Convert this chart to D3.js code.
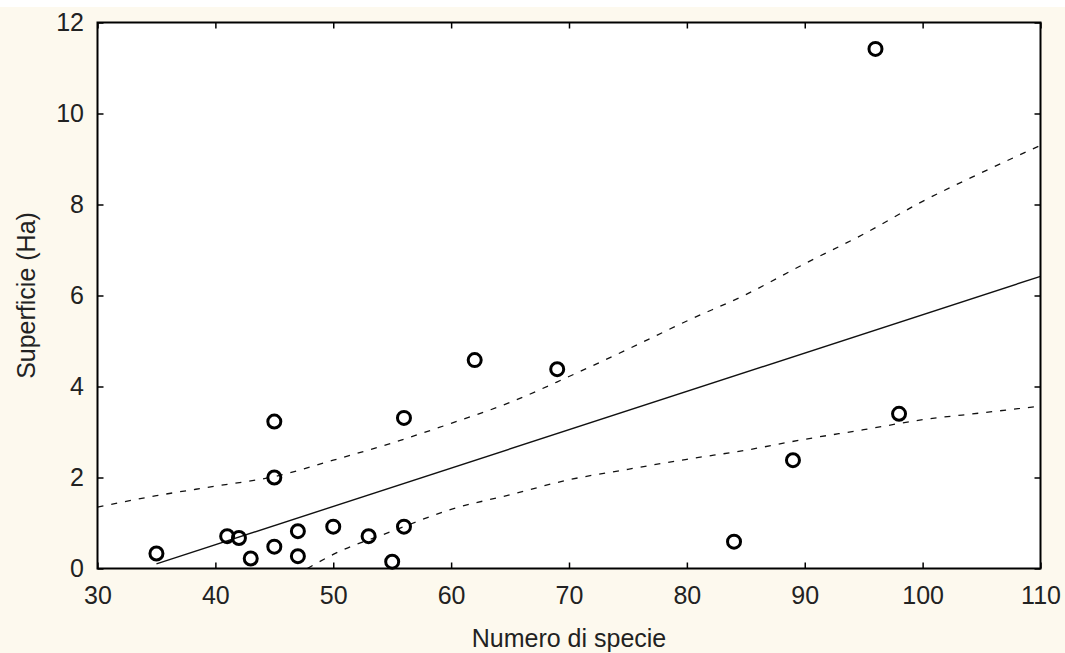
<!DOCTYPE html>
<html>
<head>
<meta charset="utf-8">
<script src="https://cdn.jsdelivr.net/npm/d3@7"></script>
<style>
  body { margin: 0; background: #fdf9ee; }
  svg { display: block; }
</style>
</head>
<body>
<svg class="chart_svg"></svg>
<script>
// observed points
const speciesCount = [35, 41, 42, 43, 45, 45, 45, 47, 47, 50, 53, 55, 56, 56, 62, 69, 84, 89, 96, 98];
const surfaceHa = [0.33, 0.71, 0.67, 0.22, 0.48, 2.0, 3.23, 0.82, 0.27, 0.92, 0.71, 0.15, 0.92, 3.31, 4.58, 4.38, 0.59, 2.38, 11.42, 3.40];

// fitted line
const fitX = [35, 110];
const fitY = [0.1, 6.42];

// confidence bands
const upperX = [30, 35, 40, 45, 50, 55, 60, 65, 70, 75, 80, 85, 90, 95, 100, 105, 110];
const upperY = [1.35, 1.6, 1.81, 2.02, 2.38, 2.76, 3.19, 3.65, 4.22, 4.82, 5.44, 6.02, 6.7, 7.35, 8.07, 8.7, 9.3];
const lowerX = [47.8, 50, 55, 60, 65, 70, 75, 80, 85, 90, 95, 100, 105, 110];
const lowerY = [0, 0.31, 0.82, 1.3, 1.62, 1.95, 2.18, 2.4, 2.6, 2.84, 3.05, 3.27, 3.42, 3.57];

// axis ticks
const xTicks = [30, 40, 50, 60, 70, 80, 90, 100, 110];
const yTicks = [0, 2, 4, 6, 8, 10, 12];

const W = 1065, H = 653;
const margin = { top: 22.5, right: 24.5, bottom: 84.5, left: 97.5 },
  w = W - margin.left - margin.right,
  h = H - margin.top - margin.bottom;

const font = "'Liberation Sans', Arial, sans-serif";

const svg = d3.select(".chart_svg")
  .attr("width", W)
  .attr("height", H);

// thin white strip at the very top
svg.append("rect").attr("width", W).attr("height", 7).attr("fill", "#ffffff");

const g = svg.append("g")
  .attr("transform", `translate(${margin.left},${margin.top})`);

const x = d3.scaleLinear().domain([30, 110]).range([0, w]);
const y = d3.scaleLinear().domain([0, 12]).range([h, 0]);

// plot background
g.append("rect")
  .attr("width", w)
  .attr("height", h)
  .attr("fill", "#ffffff");

g.append("clipPath").attr("id", "clip")
  .append("rect").attr("width", w).attr("height", h);

const line = d3.line()
  .x((d) => x(d[0]))
  .y((d) => y(d[1]))
  .curve(d3.curveMonotoneX);

const lines = g.append("g").attr("clip-path", "url(#clip)");

lines.append("path")
  .datum(upperX.map((v, i) => [v, upperY[i]]))
  .attr("d", line)
  .attr("fill", "none")
  .attr("stroke", "#111")
  .attr("stroke-width", 1.3)
  .attr("stroke-dasharray", "6,8");

lines.append("path")
  .datum(lowerX.map((v, i) => [v, lowerY[i]]))
  .attr("d", line)
  .attr("fill", "none")
  .attr("stroke", "#111")
  .attr("stroke-width", 1.3)
  .attr("stroke-dasharray", "6,8");

lines.append("path")
  .datum(fitX.map((v, i) => [v, fitY[i]]))
  .attr("d", d3.line().x((d) => x(d[0])).y((d) => y(d[1])))
  .attr("fill", "none")
  .attr("stroke", "#111")
  .attr("stroke-width", 1.4);

// points
g.selectAll(".pt")
  .data(speciesCount.map((v, i) => [v, surfaceHa[i]]))
  .join("circle")
  .attr("class", "pt")
  .attr("cx", (d) => x(d[0]))
  .attr("cy", (d) => y(d[1]))
  .attr("r", 6.5)
  .attr("fill", "none")
  .attr("stroke", "#000")
  .attr("stroke-width", 3);

// axes, ticks pointing inward
function styleAxis(sel) {
  sel.select(".domain").remove();
  sel.selectAll(".tick line").attr("stroke", "#000").attr("stroke-width", 1.5);
  sel.selectAll(".tick text")
    .attr("fill", "#222")
    .style("font-family", font)
    .style("font-size", "25px");
}

g.append("g")
  .attr("transform", `translate(0,${h})`)
  .call(d3.axisBottom(x).tickValues(xTicks).tickSize(-6).tickPadding(17.5))
  .call(styleAxis);

g.append("g")
  .call(d3.axisLeft(y).tickValues(yTicks).tickSize(-6).tickPadding(13.5))
  .call(styleAxis);

g.append("g")
  .call(d3.axisTop(x).tickValues(xTicks).tickSize(-6).tickFormat(""))
  .call(styleAxis);

g.append("g")
  .attr("transform", `translate(${w},0)`)
  .call(d3.axisRight(y).tickValues(yTicks).tickSize(-6).tickFormat(""))
  .call(styleAxis);

// frame
g.append("rect")
  .attr("width", w)
  .attr("height", h)
  .attr("fill", "none")
  .attr("stroke", "#000")
  .attr("stroke-width", 2);

// axis titles
g.append("text")
  .attr("x", w / 2)
  .attr("y", h + 78.5)
  .attr("text-anchor", "middle")
  .attr("fill", "#222")
  .style("font-family", font)
  .style("font-size", "25px")
  .text("Numero di specie");

g.append("text")
  .attr("transform", "rotate(-90)")
  .attr("x", -h / 2)
  .attr("y", -62.5)
  .attr("text-anchor", "middle")
  .attr("fill", "#222")
  .style("font-family", font)
  .style("font-size", "25px")
  .text("Superficie (Ha)");
</script>
</body>
</html>
